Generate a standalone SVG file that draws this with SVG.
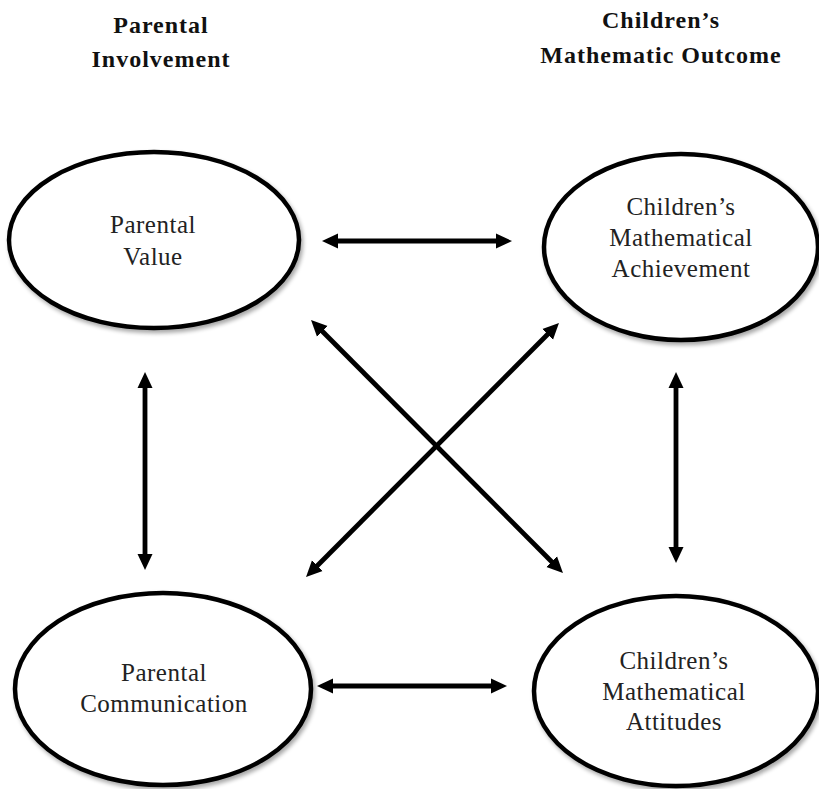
<svg xmlns="http://www.w3.org/2000/svg" width="819" height="789" viewBox="0 0 819 789">
<style>
.node ellipse{fill:#fff;stroke:#000;stroke-width:4.5;filter:url(#sh)}
.lbl{font-family:"Liberation Serif","Times New Roman",serif;font-size:25px;letter-spacing:0.5px;fill:#222;text-anchor:middle}
.hdr{font-family:"Liberation Serif","Times New Roman",serif;font-size:24px;font-weight:bold;letter-spacing:1px;fill:#111;text-anchor:middle}
.conn line{stroke:#000;stroke-width:4.8;marker-start:url(#ah);marker-end:url(#ah)}
</style>
<defs>
<filter id="sh" x="-10%" y="-10%" width="125%" height="125%">
<feGaussianBlur in="SourceAlpha" stdDeviation="2"/>
<feOffset dx="2" dy="3" result="b"/>
<feComponentTransfer><feFuncA type="linear" slope="0.35"/></feComponentTransfer>
<feMerge><feMergeNode/><feMergeNode in="SourceGraphic"/></feMerge>
</filter>
<marker id="ah" markerUnits="userSpaceOnUse" markerWidth="16" markerHeight="16" refX="5" refY="7.5" orient="auto-start-reverse" viewBox="0 0 16 15">
<path d="M0,0 L16,7.5 L0,15 z" fill="#000"/>
</marker>
</defs>
<rect width="819" height="789" fill="#fff"/>
<g id="header-left">
<text class="hdr" x="161" y="33">Parental</text>
<text class="hdr" x="161" y="67">Involvement</text>
</g>
<g id="header-right">
<text class="hdr" x="661" y="28">Children’s</text>
<text class="hdr" x="661" y="63">Mathematic Outcome</text>
</g>
<g id="parental-value" class="node">
<ellipse cx="154" cy="240" rx="145" ry="88"/>
<text class="lbl" x="153" y="233">Parental</text>
<text class="lbl" x="153" y="265">Value</text>
</g>
<g id="math-achievement" class="node">
<ellipse cx="681" cy="247" rx="137" ry="93"/>
<text class="lbl" x="681" y="215">Children’s</text>
<text class="lbl" x="681" y="246">Mathematical</text>
<text class="lbl" x="681" y="277">Achievement</text>
</g>
<g id="parental-communication" class="node">
<ellipse cx="163" cy="689" rx="148" ry="96"/>
<text class="lbl" x="164" y="681">Parental</text>
<text class="lbl" x="164" y="712">Communication</text>
</g>
<g id="math-attitudes" class="node">
<ellipse cx="676" cy="691" rx="142" ry="95"/>
<text class="lbl" x="674" y="669">Children’s</text>
<text class="lbl" x="674" y="700">Mathematical</text>
<text class="lbl" x="674" y="730">Attitudes</text>
</g>
<g id="connectors" class="conn">
<line x1="333" y1="241" x2="501" y2="241"/>
<line x1="328" y1="686" x2="496" y2="686"/>
<line x1="145" y1="383" x2="145" y2="559"/>
<line x1="676" y1="383" x2="676" y2="552"/>
<line x1="318.8" y1="327.8" x2="555.2" y2="565.2"/>
<line x1="551.2" y1="330.8" x2="313.8" y2="569.2"/>
</g>
</svg>
